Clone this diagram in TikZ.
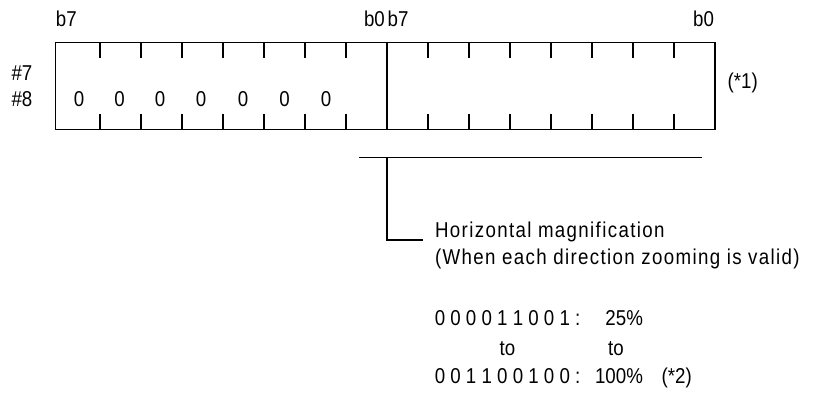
\documentclass[tikz,border=0pt]{standalone}
\usepackage{fontspec}
\setmainfont[FakeStretch=0.87]{Liberation Sans}
\newfontfamily\spacedfont[FakeStretch=0.87,LetterSpace=6.3]{Liberation Sans}
\begin{document}
\begin{tikzpicture}[x=1pt,y=-1pt,line width=1.2pt,
  lbl/.style={inner sep=0pt,font=\fontsize{21.5}{25}\selectfont},
  wlbl/.style={inner sep=0pt,font=\spacedfont\fontsize{21.5}{25}\selectfont}]
\useasboundingbox (0,0) rectangle (814,392);
% register boxes
\coordinate (tl) at (55.7,42.3);
\coordinate (br) at (715,129.3);
\draw (tl) rectangle (br);
\coordinate (mt) at (387,42.3);
\coordinate (mb) at (387,129.3);
\draw (mt) -- (mb);
\foreach \x in {100,141,182,223,264,305,346,428,469,510,551,592,633,674}{
  \draw (\x,42.3) -- ++(0,16);
  \draw (\x,129.3) -- ++(0,-15.5);
}
% bit labels
\node[lbl,anchor=base west] (b7a) at (55.3,26) {b7};
\node[lbl,anchor=base east] (b0a) at (385.5,26) {b0};
\node[lbl,anchor=base west] (b7b) at (387,26) {b7};
\node[lbl,anchor=base east] (b0b) at (714.5,26) {b0};
\node[lbl,anchor=base east] (n7) at (33,80) {\#7};
\node[lbl,anchor=base east] (n8) at (33,106.7) {\#8};
\node[lbl,anchor=base west] (s1) at (727,88) {(*1)};
\foreach \x [count=\i] in {79,119.5,160,201,243,284.5,326}{
  \node[lbl,anchor=base] (z\i) at (\x,106.7) {0};
}
% bracket
\coordinate (hl) at (359,157.7);
\coordinate (hr) at (702,157.7);
\coordinate (vt) at (387,157.7);
\coordinate (ve) at (423.3,240);
\draw (hl) -- (hr);
\draw (vt) |- (ve);
\node[wlbl,anchor=base west] (hm) at (434.5,237.5) {Horizontal magnification};
\node[wlbl,anchor=base west] (wh) at (434.5,264.5) {(When each direction zooming is valid)};
% values
\node[lbl,anchor=base west] (r1) at (434.2,325.5) {0 0 0 0 1 1 0 0 1 :};
\node[lbl,anchor=base east] (p1) at (643.5,325.5) {25\%};
\node[lbl,anchor=base] (t1) at (507.4,355.5) {to};
\node[lbl,anchor=base] (t2) at (615.9,355.5) {to};
\node[lbl,anchor=base west] (r2) at (434.2,383.5) {0 0 1 1 0 0 1 0 0 :};
\node[lbl,anchor=base east] (p2) at (643.5,383.5) {100\%};
\node[lbl,anchor=base west] (s2) at (661,383.5) {(*2)};
\end{tikzpicture}
\end{document}
